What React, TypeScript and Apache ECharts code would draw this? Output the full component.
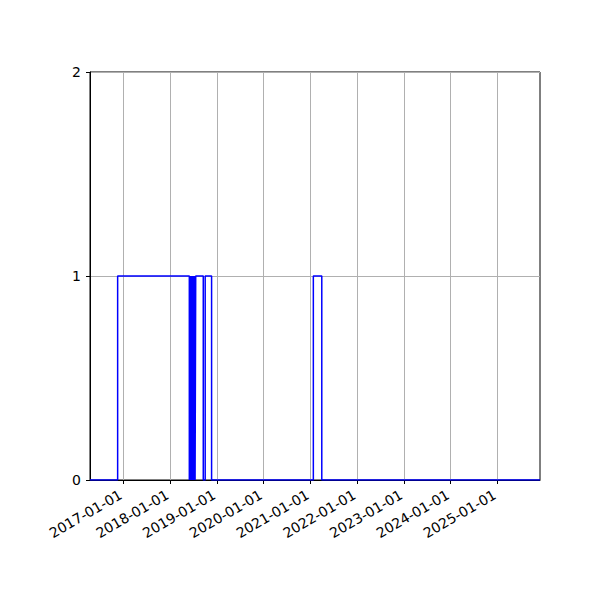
import { useEffect, useRef } from 'react';
import * as echarts from 'echarts';

// step series: value holds from each date until the next one
const stepDates = [
  '2016-04-15', '2016-11-17', '2018-05-31', '2018-06-03', '2018-06-05',
  '2018-06-08', '2018-06-11', '2018-06-14', '2018-06-17', '2018-06-20',
  '2018-06-24', '2018-06-27', '2018-07-01', '2018-07-04', '2018-07-08',
  '2018-07-11', '2018-07-15', '2018-07-20', '2018-09-17', '2018-10-02',
  '2018-11-21', '2021-01-24', '2021-03-31', '2025-11-30',
];
const stepValues = [
  0, 1, 0, 1, 0,
  1, 0, 1, 0, 1,
  0, 1, 0, 1, 0,
  1, 0, 1, 0, 1,
  0, 1, 0, 0,
];
const tickYears = [2017, 2018, 2019, 2020, 2021, 2022, 2023, 2024, 2025];
const yTicks = [0, 1, 2];

const toTime = (s: string) => {
  const [y, m, d] = s.split('-').map(Number);
  return new Date(y, m - 1, d).getTime();
};
const pad = (n: number) => String(n).padStart(2, '0');

export default function App() {
  const chartRef = useRef<HTMLDivElement>(null);

  useEffect(() => {
    document.body.style.margin = '0';
    const chart = echarts.init(chartRef.current, null, { renderer: 'svg' });
    const tickTimes = tickYears.map((y) => new Date(y, 0, 1).getTime());
    const font = "'DejaVu Sans', sans-serif";

    chart.setOption({
      animation: false,
      textStyle: { fontFamily: font },
      grid: {
        left: 90, right: 60, top: 72, bottom: 120,
        show: true, borderColor: '#000', borderWidth: 1, backgroundColor: '#fff',
        containLabel: false,
      },
      xAxis: {
        type: 'value',
        min: toTime(stepDates[0]),
        max: toTime(stepDates[stepDates.length - 1]),
        axisLine: { show: true, lineStyle: { color: '#000', width: 1 } },
        axisTick: {
          show: true, length: 4, lineStyle: { color: '#000', width: 1 },
          customValues: tickTimes,
        },
        axisLabel: {
          customValues: tickTimes,
          rotate: 30,
          hideOverlap: false,
          margin: 12,
          padding: [0, 3, 0, 0],
          color: '#000',
          fontSize: 14,
          fontFamily: font,
          formatter: (v: number) => {
            const d = new Date(v);
            return `${d.getFullYear()}-${pad(d.getMonth() + 1)}-${pad(d.getDate())}`;
          },
        },
        splitLine: { show: true, lineStyle: { color: '#b0b0b0', width: 1 } },
      },
      yAxis: {
        type: 'value',
        min: yTicks[0],
        max: yTicks[yTicks.length - 1],
        interval: 1,
        axisLine: { show: true, lineStyle: { color: '#000', width: 1 } },
        axisTick: { show: true, length: 4, lineStyle: { color: '#000', width: 1 } },
        axisLabel: { color: '#000', fontSize: 14, fontFamily: font, margin: 9 },
        splitLine: { show: true, lineStyle: { color: '#b0b0b0', width: 1 } },
      },
      series: [
        {
          type: 'line',
          step: 'end',
          showSymbol: false,
          lineStyle: { color: '#0000ff', width: 1.5 },
          itemStyle: { color: '#0000ff' },
          data: stepDates.map((d, i) => [toTime(d), stepValues[i]]),
        },
      ],
    });

    return () => {
      chart.dispose();
    };
  }, []);

  return <div ref={chartRef} style={{ width: '600px', height: '600px' }} />;
}
